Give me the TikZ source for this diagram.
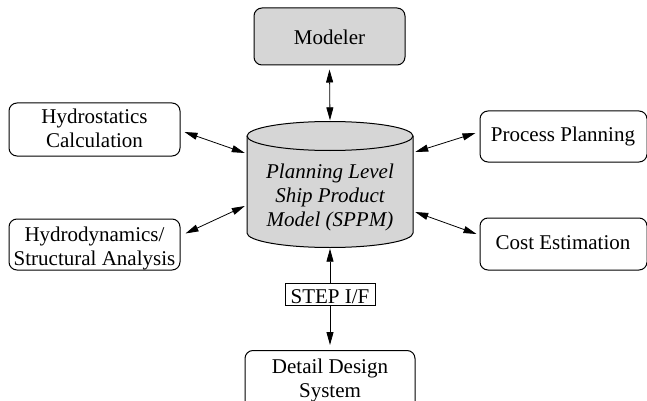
\documentclass[tikz,border=0pt]{standalone}
\usepackage{fontspec}
\setmainfont{Liberation Serif}
\usetikzlibrary{arrows.meta,calc}
\definecolor{dbgray}{RGB}{214,214,214}
\begin{document}
\begin{tikzpicture}[x=1pt,y=-1pt,
  font=\fontsize{21}{24}\selectfont,
  box/.style={draw,line width=1pt,rounded corners=8pt,inner sep=0pt},
  plain/.style={box,fill=white},
  shaded/.style={box,fill=dbgray},
  label text/.style={inner sep=0pt,align=center},
  link/.style={line width=0.8pt,{Triangle[length=13pt,width=7pt]}-{Triangle[length=13pt,width=7pt]}},
  oneway/.style={line width=0.8pt,-{Triangle[length=13pt,width=7pt]}}]
\clip (0,0) rectangle (647,401);
\fill[white] (0,0) rectangle (647,401);

% central product model drawn as a cylinder (y axis points down)
\path[fill=dbgray,draw,line width=1pt]
  (247,136) -- (247,233) arc[start angle=180,end angle=0,x radius=83,y radius=14.5]
  -- (413,136) arc[start angle=0,end angle=-180,x radius=83,y radius=14.5] -- cycle;
\draw[line width=1pt] (247,136) arc[start angle=180,end angle=0,x radius=83,y radius=14.5];
\node[minimum width=166pt,minimum height=126pt,inner sep=0pt] (sppm) at (330,184.5) {};
\node[label text,font=\fontsize{21}{24}\selectfont\itshape] (sppm-t) at (330,197)
  {Planning Level\\Ship Product\\Model (SPPM)};

% surrounding systems
\node[shaded,minimum width=151pt,minimum height=57pt] (modeler) at (329.5,36.5) {};
\node[label text,anchor=base] (modeler-t) at (329.5,44.3) {Modeler};

\node[plain,minimum width=171pt,minimum height=53pt] (hstat) at (94.5,129.5) {};
\node[label text] (hstat-t) at (94.5,128) {Hydrostatics\\Calculation};

\node[plain,minimum width=171pt,minimum height=51pt] (hdyn) at (94.5,244.5) {};
\node[label text] (hdyn-t) at (94.5,248.8) {Hydrodynamics/\\Structural Analysis};

\node[plain,minimum width=167pt,minimum height=51pt] (proc) at (563.5,136.5) {};
\node[label text,anchor=base] (proc-t) at (563,141.7) {Process Planning};

\node[plain,minimum width=167pt,minimum height=52pt] (cost) at (563.5,244) {};
\node[label text,anchor=base] (cost-t) at (563,249.3) {Cost Estimation};

\node[draw,line width=1pt,minimum width=90pt,minimum height=22pt,inner sep=0pt] (step) at (330,294) {};
\node[label text,anchor=base] (step-t) at (330,303) {STEP I/F};

\node[plain,minimum width=170pt,minimum height=70pt,anchor=north] (detail) at (330,350) {};
\node[label text] (detail-t) at (330,380) {Detail Design\\System};

% connectors
\draw[link] ([yshift=-4pt]modeler.south) -- ([yshift=1pt]sppm.north);
\draw[link] ([shift={(4pt,-2.5pt)}]hstat.east) -- ([shift={(-2pt,31.5pt)}]sppm.west);
\draw[link] ([shift={(5pt,11pt)}]hdyn.west -| hdyn.east) -- ([shift={(-2pt,-21.5pt)}]sppm.west);
\draw[link] ([shift={(-4pt,3.5pt)}]proc.west) -- ([shift={(2pt,32.5pt)}]sppm.east);
\draw[link] ([shift={(-3pt,10pt)}]cost.west) -- ([shift={(2pt,-27.5pt)}]sppm.east);
\draw[oneway] (step.north) -- ([yshift=-1pt]sppm.south);
\draw[oneway] (step.south) -- ([yshift=5pt]detail.north);
\end{tikzpicture}
\end{document}
